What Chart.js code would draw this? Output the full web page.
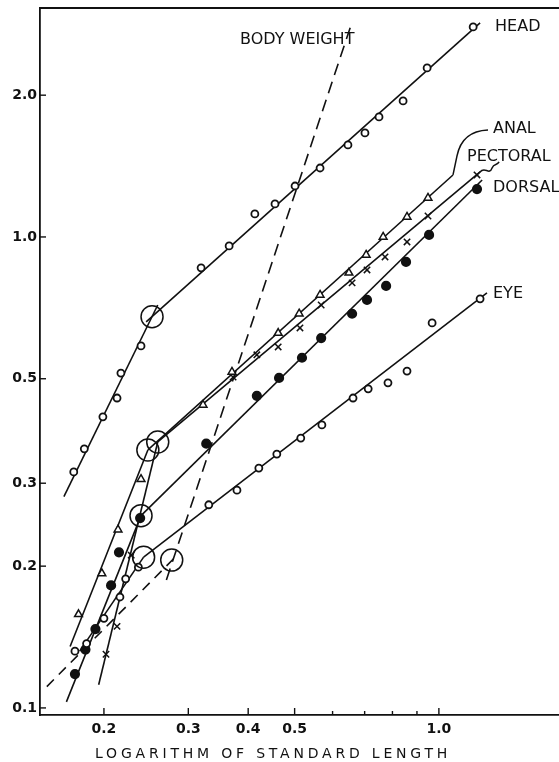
<!DOCTYPE html>
<html>
<head>
<meta charset="utf-8">
<script src="https://cdn.jsdelivr.net/npm/chart.js@4/dist/chart.umd.min.js"></script>
<style>
  html, body { margin: 0; padding: 0; background: #fff; }
  canvas { display: block; }
</style>
</head>
<body>
<canvas id="growth" width="559" height="762"></canvas>
<script>
const xTicks = [0.2, 0.3, 0.4, 0.5, 0.6, 0.7, 0.8, 0.9, 1.0];
const xTickLabels = ["0.2", "0.3", "0.4", "0.5", "", "", "", "", "1.0"];
const yTicks = [0.1, 0.2, 0.3, 0.5, 1.0, 2.0];
const yTickLabels = ["0.1", "0.2", "0.3", "0.5", "1.0", "2.0"];

// measured points (standard length, part length)
const headX = [0.173, 0.182, 0.199, 0.213, 0.217, 0.239, 0.319, 0.365, 0.413, 0.455, 0.501, 0.565, 0.646, 0.701, 0.750, 0.842, 0.945, 1.179];
const headY = [0.317, 0.355, 0.415, 0.455, 0.514, 0.587, 0.860, 0.957, 1.119, 1.175, 1.283, 1.401, 1.568, 1.663, 1.798, 1.945, 2.285, 2.792];
const analX = [0.177, 0.198, 0.214, 0.239, 0.322, 0.370, 0.462, 0.511, 0.565, 0.649, 0.705, 0.765, 0.858, 0.949];
const analY = [0.158, 0.193, 0.239, 0.306, 0.440, 0.517, 0.625, 0.687, 0.753, 0.839, 0.916, 1.000, 1.103, 1.210];
const pectX = [0.202, 0.213, 0.228, 0.372, 0.417, 0.462, 0.513, 0.568, 0.659, 0.708, 0.772, 0.858, 0.949, 1.201];
const pectY = [0.130, 0.149, 0.211, 0.504, 0.562, 0.584, 0.641, 0.717, 0.799, 0.851, 0.907, 0.976, 1.108, 1.354];
const dorsX = [0.174, 0.183, 0.192, 0.207, 0.215, 0.238, 0.327, 0.417, 0.464, 0.518, 0.568, 0.659, 0.708, 0.776, 0.854, 0.954, 1.201];
const dorsY = [0.118, 0.133, 0.147, 0.182, 0.214, 0.253, 0.364, 0.460, 0.502, 0.554, 0.610, 0.687, 0.735, 0.787, 0.885, 1.010, 1.264];
const eyeX = [0.174, 0.184, 0.200, 0.216, 0.222, 0.236, 0.331, 0.379, 0.421, 0.459, 0.515, 0.570, 0.662, 0.712, 0.783, 0.858, 0.968, 1.219];
const eyeY = [0.132, 0.137, 0.155, 0.172, 0.188, 0.199, 0.270, 0.290, 0.323, 0.346, 0.374, 0.399, 0.455, 0.476, 0.490, 0.519, 0.657, 0.739];

// fitted lines, two phases each
const headLowX = [0.165, 0.259], headLowY = [0.281, 0.717];
const headHighX = [0.245, 1.219], headHighY = [0.660, 2.847];
const analLowX = [0.170, 0.247], analLowY = [0.135, 0.353];
const analHighX = [0.247, 1.070], analHighY = [0.353, 1.354];
const pectLowX = [0.195, 0.259], pectLowY = [0.112, 0.367];
const pectHighX = [0.259, 1.219], pectHighY = [0.367, 1.374];
const dorsLowX = [0.167, 0.239], dorsLowY = [0.103, 0.256];
const dorsHighX = [0.239, 1.231], dorsHighY = [0.256, 1.321];
const eyeLowX = [0.178, 0.242], eyeLowY = [0.132, 0.209];
const eyeHighX = [0.242, 1.260], eyeHighY = [0.209, 0.761];
const bodyLowX = [0.152, 0.283], bodyLowY = [0.111, 0.210];
const bodyHighX = [0.270, 0.659], bodyHighY = [0.187, 2.861];

// break points (head, anal, pectoral, dorsal, eye, body weight)
const breakX = [0.252, 0.247, 0.259, 0.239, 0.242, 0.277];
const breakY = [0.677, 0.353, 0.367, 0.256, 0.209, 0.206];

const labels = [
  { text: "HEAD", x: 1.31, y: 2.79 },
  { text: "ANAL", x: 1.297, y: 1.696 },
  { text: "PECTORAL", x: 1.145, y: 1.479 },
  { text: "DORSAL", x: 1.297, y: 1.271 },
  { text: "EYE", x: 1.297, y: 0.757 },
  { text: "BODY WEIGHT", x: 0.3845, y: 2.62 }
];
const xTitle = "LOGARITHM OF STANDARD LENGTH";

const ink = "#111";
const font = '"DejaVu Sans", sans-serif';
const zip = (xs, ys) => xs.map((x, i) => ({ x, y: ys[i] }));

const points = (xs, ys, style) => Object.assign({
  data: zip(xs, ys),
  showLine: false,
  borderColor: ink,
  backgroundColor: "#fff",
  borderWidth: 1.8,
  pointRadius: 3.5
}, style);

const line = (xs, ys, dash) => ({
  data: zip(xs, ys),
  showLine: true,
  borderColor: ink,
  borderWidth: 1.6,
  borderDash: dash || [],
  pointRadius: 0
});

const decor = {
  id: "decor",
  afterDraw(chart) {
    const { ctx, chartArea: a, scales: { x, y } } = chart;
    ctx.save();
    ctx.strokeStyle = ink;
    ctx.fillStyle = ink;
    ctx.lineWidth = 1.8;
    ctx.beginPath();
    ctx.moveTo(a.left, a.top);
    ctx.lineTo(a.right, a.top);
    ctx.stroke();

    ctx.lineWidth = 1.4;
    xTicks.forEach((v, i) => {
      const px = x.getPixelForValue(v);
      ctx.beginPath();
      ctx.moveTo(px, a.bottom);
      ctx.lineTo(px, a.bottom - (xTickLabels[i] ? 7 : 4));
      ctx.stroke();
    });
    yTicks.forEach(v => {
      const py = y.getPixelForValue(v);
      ctx.beginPath();
      ctx.moveTo(a.left, py);
      ctx.lineTo(a.left + 6, py);
      ctx.stroke();
    });

    ctx.font = "16px " + font;
    ctx.textBaseline = "middle";
    labels.forEach(l => ctx.fillText(l.text, x.getPixelForValue(l.x), y.getPixelForValue(l.y)));

    // leader from anal line up to its label
    const ax = x.getPixelForValue(labels[1].x), ay = y.getPixelForValue(labels[1].y);
    ctx.lineWidth = 1.5;
    ctx.beginPath();
    ctx.moveTo(ax - 40, ay + 46);
    ctx.lineTo(ax - 36, ay + 27);
    ctx.quadraticCurveTo(ax - 31, ay + 2, ax - 5, ay + 1);
    ctx.stroke();

    // squiggle under the pectoral label
    const px0 = x.getPixelForValue(labels[2].x), py0 = y.getPixelForValue(labels[2].y);
    ctx.beginPath();
    ctx.moveTo(px0 + 13, py0 + 15);
    ctx.bezierCurveTo(px0 + 18, py0 + 9, px0 + 22, py0 + 19, px0 + 25, py0 + 11);
    ctx.bezierCurveTo(px0 + 27, py0 + 6, px0 + 30, py0 + 9, px0 + 32, py0 + 5);
    ctx.stroke();

    ctx.font = "14px " + font;
    ctx.letterSpacing = "3.8px";
    ctx.textAlign = "left";
    ctx.fillText(xTitle, a.left + 55, a.bottom + 39);
    ctx.restore();
  }
};

new Chart(document.getElementById("growth"), {
  type: "scatter",
  data: {
    datasets: [
      points(breakX, breakY, { pointRadius: 11, borderWidth: 1.5, backgroundColor: "rgba(0,0,0,0)" }),
      points(headX, headY),
      points(eyeX, eyeY),
      points(analX, analY, { pointStyle: "triangle", pointRadius: 4.5, borderWidth: 1.5 }),
      points(pectX, pectY, { pointStyle: "crossRot", pointRadius: 4.5, borderWidth: 1.5 }),
      points(dorsX, dorsY, { backgroundColor: ink, pointRadius: 4.2 }),
      line(headLowX, headLowY),
      line(headHighX, headHighY),
      line(analLowX, analLowY),
      line(analHighX, analHighY),
      line(pectLowX, pectLowY),
      line(pectHighX, pectHighY),
      line(dorsLowX, dorsLowY),
      line(dorsHighX, dorsHighY),
      line(eyeLowX, eyeLowY),
      line(eyeHighX, eyeHighY),
      line(bodyLowX, bodyLowY, [10, 7]),
      line(bodyHighX, bodyHighY, [12, 7])
    ]
  },
  options: {
    responsive: false,
    animation: false,
    layout: { autoPadding: false, padding: { top: 8, left: 0, right: 0, bottom: 0 } },
    plugins: {
      legend: { display: false },
      tooltip: { enabled: false }
    },
    scales: {
      x: {
        type: "logarithmic",
        min: 0.1471,
        max: 1.781,
        afterBuildTicks: s => { s.ticks = xTicks.map(v => ({ value: v })); },
        afterFit: s => { s.height = 47; s.paddingLeft = 0; s.paddingRight = 0; },
        grid: { display: false, drawTicks: false },
        border: { display: true, color: ink, width: 1.8 },
        ticks: {
          autoSkip: false,
          maxRotation: 0,
          padding: 6,
          color: ink,
          font: { family: font, size: 14, weight: "bold" },
          callback: (v, i) => xTickLabels[i]
        }
      },
      y: {
        type: "logarithmic",
        min: 0.0966,
        max: 3.063,
        afterBuildTicks: s => { s.ticks = yTicks.map(v => ({ value: v })); },
        afterFit: s => { s.width = 40; s.paddingTop = 0; s.paddingBottom = 0; },
        grid: { display: false, drawTicks: false },
        border: { display: true, color: ink, width: 1.8 },
        ticks: {
          padding: 3,
          color: ink,
          font: { family: font, size: 14, weight: "bold" },
          callback: (v, i) => yTickLabels[i]
        }
      }
    }
  },
  plugins: [decor]
});
</script>
</body>
</html>
